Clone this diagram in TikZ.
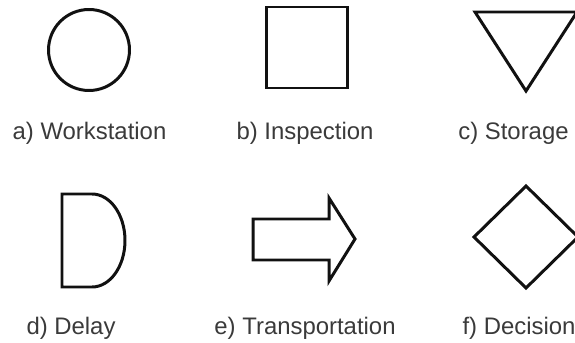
\documentclass[tikz,border=0pt]{standalone}
\usepackage{fontspec}
\setmainfont{Liberation Sans}
\usetikzlibrary{calc}
\definecolor{SymbolInk}{HTML}{111111}
\definecolor{CaptionGray}{HTML}{3A3A3A}

\begin{document}
\begin{tikzpicture}[every node/.style={font=\fontsize{13.6}{16}\selectfont,text=CaptionGray},
  symbol/.style={draw=SymbolInk,line width=1.7pt,line join=miter}]
        \useasboundingbox (0,0) rectangle (11.5,6.84);
        \clip (0,0) rectangle (11.5,6.84);
        % top row
        \draw[symbol] (1.78,5.84) circle (0.81);
        \draw[symbol] (5.32,5.08) rectangle (6.94,6.70);
        \draw[symbol] (9.50,6.60) -- (11.54,6.60) -- (10.52,5.02) -- cycle;
        \node (capWork) at (1.79,4.18) {a) Workstation};
        \node (capInsp) at (6.10,4.18) {b) Inspection};
        \node (capStor) at (10.27,4.18) {c) Storage};
        % bottom row
        \draw[symbol] (1.24,2.96) -- (1.84,2.96) arc[start angle=90,end angle=-90,x radius=0.66,y radius=0.93] -- (1.24,1.10) -- cycle;
        \draw[symbol] (5.06,2.46) -- (6.58,2.46) -- (6.58,2.88) -- (7.10,2.06) -- (6.58,1.22) -- (6.58,1.64) -- (5.06,1.64) -- cycle;
        \draw[symbol] (10.52,3.12) -- (11.56,2.10) -- (10.52,1.08) -- (9.48,2.10) -- cycle;
        \node (capDelay) at (1.42,0.28) {d) Delay};
        \node (capTrans) at (6.10,0.28) {e) Transportation};
        \node (capDec) at (10.38,0.28) {f) Decision};
      \end{tikzpicture}
\end{document}
